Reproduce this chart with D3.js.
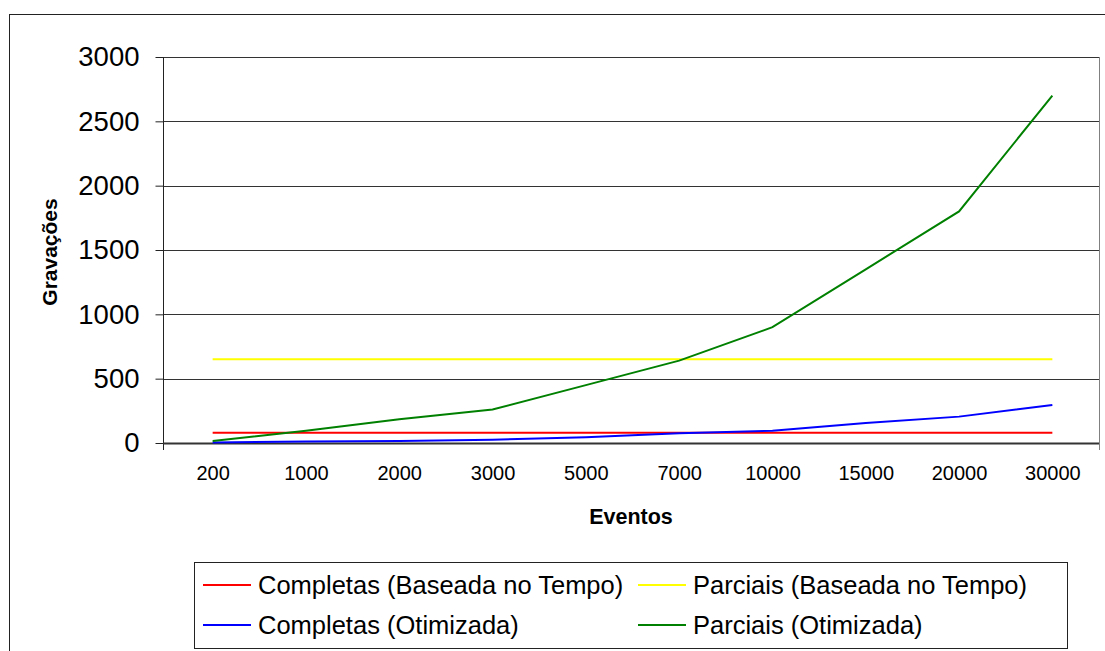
<!DOCTYPE html>
<html>
<head>
<meta charset="utf-8">
<script src="https://cdn.jsdelivr.net/npm/d3@7"></script>
<style>
  html, body { margin: 0; padding: 0; background: #fff; }
  svg { display: block; font-family: "Liberation Sans", Arial, sans-serif; }
</style>
</head>
<body>
<svg id="chart" width="1105" height="651"></svg>
<script>
// Number of events per run (category axis)
const categories = ["200", "1000", "2000", "3000", "5000", "7000", "10000", "15000", "20000", "30000"];

// Recordings per strategy
const completasTempo = [80, 80, 80, 80, 80, 80, 80, 80, 80, 80];
const parciaisTempo  = [650, 650, 650, 650, 650, 650, 650, 650, 650, 650];
const completasOtim  = [3, 12, 15, 25, 45, 75, 95, 155, 205, 295];
const parciaisOtim   = [15, 95, 185, 260, 450, 640, 900, 1350, 1800, 2700];

const yTicks = [0, 500, 1000, 1500, 2000, 2500, 3000];

const seriesNames = [
  "Completas (Baseada no Tempo)",
  "Parciais (Baseada no Tempo)",
  "Completas (Otimizada)",
  "Parciais (Otimizada)"
];
const seriesValues = [completasTempo, parciaisTempo, completasOtim, parciaisOtim];
const seriesColors = ["#ff0000", "#ffff00", "#0000ff", "#008000"];

const svg = d3.select("#chart");

// Outer chart frame
svg.append("rect")
  .attr("x", 9.5).attr("y", 14.5)
  .attr("width", 1200).attr("height", 700)
  .attr("fill", "#fff").attr("stroke", "#222").attr("stroke-width", 1);

const plot = { left: 163, right: 1099, top: 57, bottom: 443 };

const x = d3.scalePoint()
  .domain(categories)
  .range([plot.left + 3, plot.right])
  .padding(0.5);

const y = d3.scaleLinear()
  .domain([0, 3000])
  .range([plot.bottom, plot.top]);

// Horizontal gridlines
svg.append("g")
  .selectAll("line")
  .data(yTicks.filter(d => d > 0))
  .join("line")
  .attr("x1", plot.left).attr("x2", plot.right)
  .attr("y1", d => Math.round(y(d)) + 0.5).attr("y2", d => Math.round(y(d)) + 0.5)
  .attr("stroke", "#333").attr("stroke-width", 1);

// Right border of plot area
svg.append("line")
  .attr("x1", plot.right + 0.5).attr("x2", plot.right + 0.5)
  .attr("y1", plot.top).attr("y2", plot.bottom + 7)
  .attr("stroke", "#808080");

// Y axis
const yAxis = d3.axisLeft(y).tickValues(yTicks).tickSize(8).tickPadding(16).tickFormat(d3.format("d"));
const gy = svg.append("g")
  .attr("transform", `translate(${plot.left + 0.5},0)`)
  .call(yAxis);
gy.select(".domain").attr("stroke", "#222").attr("d", `M0,${plot.top}V${plot.bottom + 7}`);
gy.selectAll(".tick line").attr("stroke", "#222");
gy.selectAll(".tick text")
  .attr("font-size", 27.5).attr("fill", "#000")
  .attr("font-family", "Liberation Sans, Arial, sans-serif");

// X axis
const xAxis = d3.axisBottom(x).tickSize(0).tickPadding(22);
const gx = svg.append("g")
  .attr("transform", `translate(0,${Math.round(y(0)) + 0.5})`)
  .call(xAxis);
gx.select(".domain").attr("stroke", "#333").attr("stroke-width", 2)
  .attr("d", `M${plot.left},0H${plot.right}`);
gx.selectAll(".tick text")
  .attr("font-size", 20).attr("fill", "#000")
  .attr("font-family", "Liberation Sans, Arial, sans-serif");

// Axis titles
svg.append("text")
  .attr("x", 631).attr("y", 524)
  .attr("text-anchor", "middle")
  .attr("font-size", 21.5).attr("font-weight", "bold")
  .text("Eventos");

svg.append("text")
  .attr("transform", "translate(57,252) rotate(-90)")
  .attr("text-anchor", "middle")
  .attr("font-size", 21).attr("font-weight", "bold")
  .text("Gravações");

// Series lines
const line = d3.line()
  .x((d, i) => x(categories[i]))
  .y(d => y(d));

svg.append("g")
  .selectAll("path")
  .data(seriesValues)
  .join("path")
  .attr("d", d => line(d))
  .attr("fill", "none")
  .attr("stroke", (d, i) => seriesColors[i])
  .attr("stroke-width", 2);

// Legend
const legend = svg.append("g");
legend.append("rect")
  .attr("x", 194.5).attr("y", 562.5)
  .attr("width", 873).attr("height", 86)
  .attr("fill", "#fff").attr("stroke", "#222");

const legendPos = [
  { lx: 203, ty: 585 },
  { lx: 638, ty: 585 },
  { lx: 203, ty: 625 },
  { lx: 638, ty: 625 }
];
const items = legend.selectAll("g.item")
  .data(seriesNames)
  .join("g")
  .attr("class", "item")
  .attr("transform", (d, i) => `translate(${legendPos[i].lx},${legendPos[i].ty})`);
items.append("line")
  .attr("x1", 0).attr("x2", 48)
  .attr("y1", 0).attr("y2", 0)
  .attr("stroke", (d, i) => seriesColors[i])
  .attr("stroke-width", 2);
items.append("text")
  .attr("x", 55).attr("y", 0).attr("dy", "0.35em")
  .attr("font-size", 25.5).attr("fill", "#000")
  .text(d => d);
</script>
</body>
</html>
